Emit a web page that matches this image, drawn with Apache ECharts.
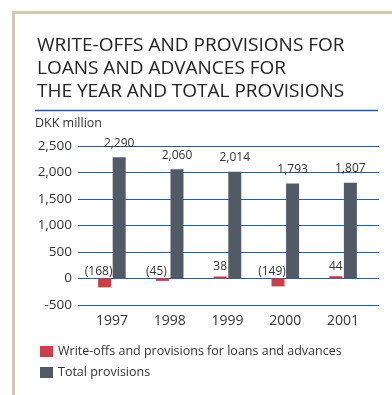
<!DOCTYPE html>
<html>
<head>
<meta charset="utf-8">
<script src="https://cdn.jsdelivr.net/npm/echarts@6/dist/echarts.min.js"></script>
<style>
  html, body { margin: 0; padding: 0; background: #fff; }
  #chart { width: 392px; height: 395px; }
</style>
</head>
<body>
<div id="chart"></div>
<script>
// Write-offs and provisions, DKK million
const years = ['1997', '1998', '1999', '2000', '2001'];
const writeOffs = [-168, -45, 38, -149, 44];
const totalProvisions = [2290, 2060, 2014, 1793, 1807];
const yTicks = [-500, 0, 500, 1000, 1500, 2000, 2500];

const FONT = '"Open Sans", "DejaVu Sans", sans-serif';
const TEXT = '#333';
const RED = '#c9404b';
const DARK = '#525a66';
const GRID_BLUE = '#2c5aa0';

const fmt = v => {
  const s = Math.abs(v).toLocaleString('en-US');
  return v < 0 ? '(' + s + ')' : s;
};

const chart = echarts.init(document.getElementById('chart'), null, { renderer: 'canvas' });

const yMin = yTicks[0], yMax = yTicks[yTicks.length - 1];
const step = yTicks[1] - yTicks[0];
// pixel height of one tick step, used to lift negative labels above the zero line
const stepPx = (395 - 146 - 90) / (yTicks.length - 1);

chart.setOption({
  animation: false,
  textStyle: { fontFamily: FONT },
  title: {
    text: 'WRITE-OFFS AND PROVISIONS FOR\nLOANS AND ADVANCES FOR\nTHE YEAR AND TOTAL PROVISIONS',
    left: 32, top: 29,
    textStyle: { fontFamily: FONT, fontSize: 19, fontWeight: 'normal', color: '#222', lineHeight: 23 }
  },
  graphic: [
    { type: 'line', shape: { x1: 13.5, y1: 12, x2: 13.5, y2: 395 }, style: { stroke: '#cfcbb0', lineWidth: 3 } },
    { type: 'line', shape: { x1: 12, y1: 12.5, x2: 392, y2: 12.5 }, style: { stroke: '#cfcbb0', lineWidth: 3 } },
    { type: 'line', shape: { x1: 35, y1: 110.5, x2: 378, y2: 110.5 }, style: { stroke: '#2458a4', lineWidth: 1.5 } },
    { type: 'text', left: 35, top: 117, style: { text: 'DKK million', fontFamily: FONT, fontSize: 12.5, fill: TEXT } }
  ],
  legend: {
    orient: 'vertical', left: 35, top: 340,
    icon: 'rect',
    itemWidth: 13, itemHeight: 11, itemGap: 8,
    textStyle: { fontFamily: FONT, fontSize: 12.5, color: TEXT },
    data: ['Write-offs and provisions for loans and advances', 'Total provisions']
  },
  grid: [
    { left: 78, right: 13, top: 146, bottom: 90 },
    { left: 83, right: 20, top: 146, bottom: 90 }
  ],
  xAxis: [
    { type: 'value', gridIndex: 0, show: false, min: 0, max: 1 },
    {
      type: 'category', gridIndex: 1, data: years,
      axisLine: { show: false }, axisTick: { show: false },
      axisLabel: { color: TEXT, fontSize: 14, margin: 9, fontFamily: FONT }
    }
  ],
  yAxis: [
    {
      type: 'value', gridIndex: 0, min: yMin, max: yMax, interval: step,
      axisLine: { show: false }, axisTick: { show: false },
      axisLabel: {
        color: TEXT, fontSize: 13.5, margin: 6, fontFamily: FONT,
        formatter: v => v.toLocaleString('en-US')
      },
      splitLine: {
        lineStyle: { color: GRID_BLUE, width: 1 }
      }
    },
    { type: 'value', gridIndex: 1, min: yMin, max: yMax, interval: step, show: false, splitLine: { show: false } }
  ],
  series: [
    {
      name: 'Write-offs and provisions for loans and advances',
      type: 'bar', xAxisIndex: 1, yAxisIndex: 1,
      barWidth: 13, barGap: '12%',
      itemStyle: { color: RED },
      data: writeOffs.map(v => ({
        value: v,
        label: {
          show: true,
          position: v < 0 ? 'insideBottom' : 'top',
          distance: v < 0 ? 0 : 4,
          // negative amounts sit above the zero line, ending at the bar's right edge
          offset: v < 0 ? [-6, -(Math.abs(v) / step * stepPx) - 1] : [0, 0],
          formatter: p => fmt(p.value),
          color: TEXT, fontSize: 12, fontFamily: FONT
        }
      }))
    },
    {
      name: 'Total provisions',
      type: 'bar', xAxisIndex: 1, yAxisIndex: 1,
      barWidth: 13,
      itemStyle: { color: DARK },
      label: {
        show: true, position: 'top', distance: 8,
        formatter: p => fmt(p.value),
        color: TEXT, fontSize: 12, fontFamily: FONT
      },
      data: totalProvisions
    }
  ]
});
</script>
</body>
</html>
